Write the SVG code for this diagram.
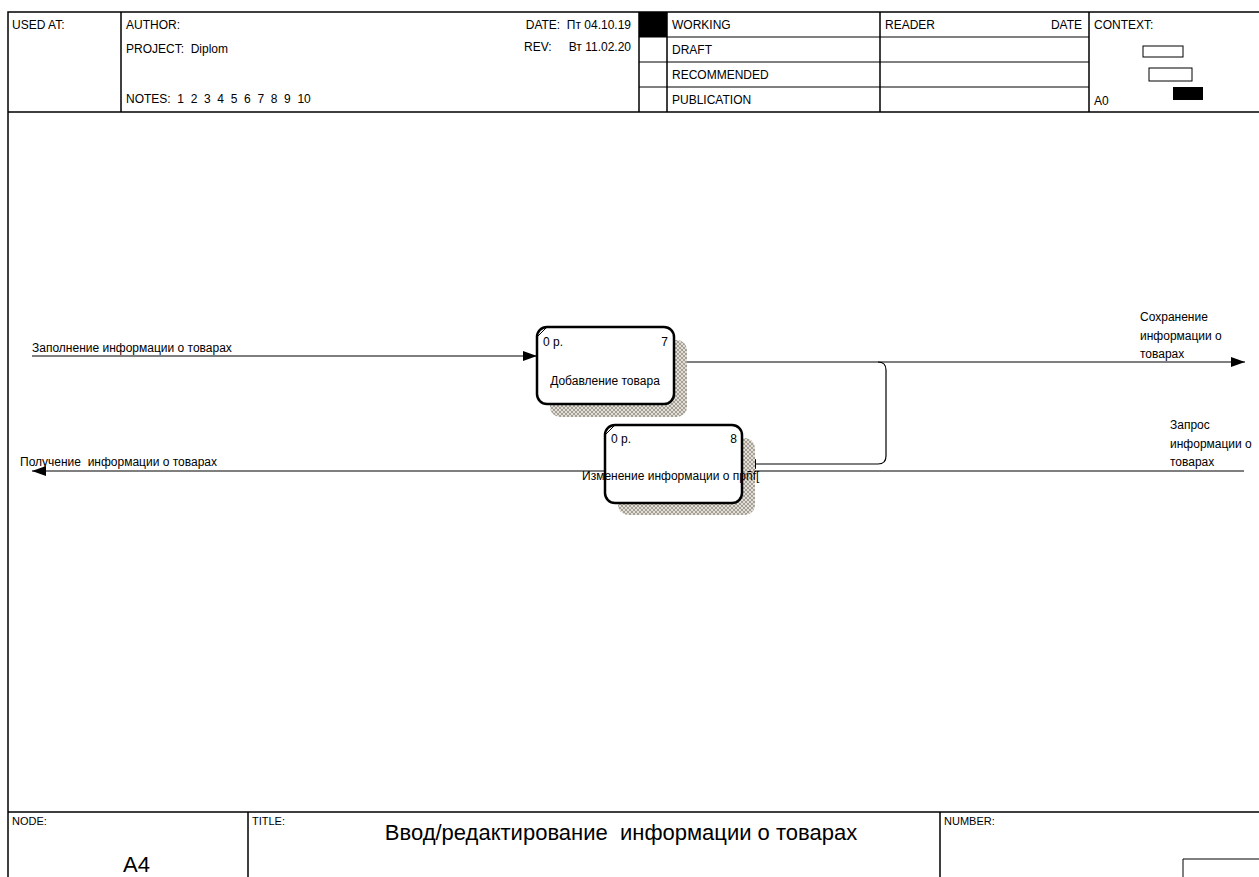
<svg xmlns="http://www.w3.org/2000/svg" width="1259" height="877" viewBox="0 0 1259 877">
<defs>
<style>
text{font-family:"Liberation Sans",Arial,sans-serif;font-size:12px;fill:#000;white-space:pre}
.frame{stroke:#000;stroke-width:1.5;fill:none}
.thin{stroke:#000;stroke-width:1;fill:none}
.box{fill:#fff;stroke:#000;stroke-width:2.5}
.shadow{fill:url(#hatch);stroke:none}
.conn{stroke:#000;stroke-width:1.2;fill:none}
.big{font-size:22px}
</style>
<pattern id="hatch" width="4" height="4" patternUnits="userSpaceOnUse">
<rect width="4" height="4" fill="#e2ded6"/>
<path d="M0,4 L4,0 M0,0 L4,4" stroke="#8a857c" stroke-width="0.7"/>
</pattern>
<marker id="arr" markerWidth="14" markerHeight="10" refX="14" refY="5" orient="auto" markerUnits="userSpaceOnUse">
<path d="M0,0 L14,5 L0,10 Z" fill="#000"/>
</marker>
</defs>
<rect width="1259" height="877" fill="#fff"/>
<g id="frame">
<path class="frame" d="M8,877 V12 H1259 M8,112 H1259 M8,812 H1259"/>
<path class="frame" d="M121,12 V112 M639,12 V112 M667,12 V112 M880,12 V112 M1089,12 V112"/>
<path class="thin" d="M639,37 H1089 M639,62 H1089 M639,87 H1089"/>
<rect x="639" y="12" width="28" height="25" fill="#000"/>
<path class="frame" d="M248,812 V877 M940,812 V877"/>
<path class="thin" d="M1183,877 V859 H1259"/>
<rect x="1143" y="46" width="40" height="11" fill="#fff" stroke="#000"/>
<rect x="1149" y="68" width="43" height="13" fill="#fff" stroke="#000"/>
<rect x="1173" y="87" width="30" height="13" fill="#000"/>
<text x="12" y="29">USED AT:</text>
<text x="126" y="29">AUTHOR:</text>
<text x="126" y="53">PROJECT:  Diplom</text>
<text x="126" y="103">NOTES:  1  2  3  4  5  6  7  8  9  10</text>
<text x="631" y="29" text-anchor="end">DATE:  Пт 04.10.19</text>
<text x="524" y="51">REV:</text>
<text x="631" y="51" text-anchor="end">Вт 11.02.20</text>
<text x="672" y="29">WORKING</text>
<text x="672" y="54">DRAFT</text>
<text x="672" y="79">RECOMMENDED</text>
<text x="672" y="104">PUBLICATION</text>
<text x="885" y="29">READER</text>
<text x="1082" y="29" text-anchor="end">DATE</text>
<text x="1094" y="29">CONTEXT:</text>
<text x="1094" y="105">A0</text>
<text x="12" y="825" style="font-size:11px">NODE:</text>
<text x="252" y="825" style="font-size:11px">TITLE:</text>
<text x="944" y="825" style="font-size:11px">NUMBER:</text>
<text x="123" y="872" class="big">A4</text>
<text x="621" y="840" class="big" text-anchor="middle">Ввод/редактирование  информации о товарах</text>
</g>
<g id="connectors">
<path class="conn" d="M32,356 H537" marker-end="url(#arr)"/>
<path class="conn" d="M675,362 H1245" marker-end="url(#arr)"/>
<path class="conn" d="M878,362 Q886,362 886,370 V456 Q886,464 878,464 H742" marker-end="url(#arr)"/>
<path class="conn" d="M1244,471 H742"/>
<path class="conn" d="M605,471 H32" marker-end="url(#arr)"/>
<text x="32" y="352">Заполнение информации о товарах</text>
<text x="20" y="466">Получение  информации о товарах</text>
<text x="1140" y="321">Сохранение</text>
<text x="1140" y="340">информации о</text>
<text x="1140" y="358">товарах</text>
<text x="1170" y="429">Запрос</text>
<text x="1170" y="448">информации о</text>
<text x="1170" y="466">товарах</text>
</g>
<g id="node-A41">
<rect class="shadow" x="550" y="340" width="137" height="77" rx="10"/>
<rect class="box" x="537" y="327" width="137" height="77" rx="10"/>
<path d="M538,336 L546,328" stroke="#000" stroke-width="1"/>
<text x="543" y="346">0 р.</text>
<text x="668" y="346" text-anchor="end">7</text>
<text x="605" y="385" text-anchor="middle">Добавление товара</text>
</g>
<g id="node-A42">
<rect class="shadow" x="618" y="438" width="137" height="77" rx="10"/>
<rect class="box" x="605" y="425" width="137" height="78" rx="10"/>
<path d="M606,434 L614,426" stroke="#000" stroke-width="1"/>
<text x="611" y="443">0 р.</text>
<text x="737" y="443" text-anchor="end">8</text>
<text x="582" y="480">Изменение информации о прñf[</text>
</g>
</svg>
